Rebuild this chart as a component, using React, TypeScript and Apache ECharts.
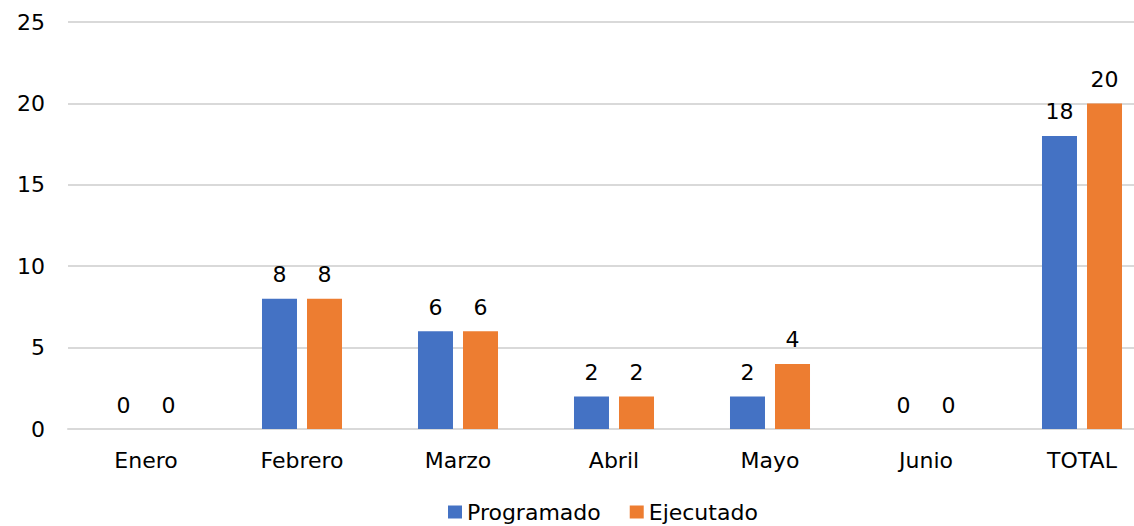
import React, { useEffect, useRef } from "react";
import * as echarts from "echarts";

const categories = ["Enero", "Febrero", "Marzo", "Abril", "Mayo", "Junio", "TOTAL"];
const programado = [0, 8, 6, 2, 2, 0, 18];
const ejecutado = [0, 8, 6, 2, 4, 0, 20];
const seriesNames = ["Programado", "Ejecutado"];
const yMin = 0;
const yMax = 25;
const yInterval = 5;

const FONT = "DejaVu Sans";
const FS = 22;

export default function App() {
  const ref = useRef<HTMLDivElement>(null);
  useEffect(() => {
    if (!ref.current) return;
    const chart = echarts.init(ref.current, undefined, { renderer: "svg" });
    const label = {
      show: true,
      position: "top",
      distance: 13,
      color: "#000",
      fontFamily: FONT,
      fontSize: FS,
    };
    chart.setOption({
      animation: false,
      textStyle: { fontFamily: FONT },
      grid: {
        left: 68,
        top: 22,
        width: 1092,
        height: 407,
        containLabel: false,
        outerBoundsMode: "none",
      },
      legend: {
        left: 443,
        top: 496,
        itemWidth: 14,
        itemHeight: 13,
        itemGap: 29,
        icon: "rect",
        textStyle: { color: "#000", fontFamily: FONT, fontSize: FS },
        data: seriesNames,
      },
      xAxis: {
        type: "category",
        data: categories,
        axisLine: { show: true, lineStyle: { color: "#d9d9d9", width: 2 } },
        axisTick: { show: false },
        axisLabel: { color: "#000", fontFamily: FONT, fontSize: FS, margin: 20, interval: 0 },
      },
      yAxis: {
        type: "value",
        min: yMin,
        max: yMax,
        interval: yInterval,
        axisLine: { show: false },
        axisTick: { show: false },
        splitLine: { lineStyle: { color: "#d9d9d9", width: 2 } },
        axisLabel: { color: "#000", fontFamily: FONT, fontSize: FS, margin: 23 },
      },
      series: [
        {
          name: seriesNames[0],
          type: "bar",
          data: programado,
          barWidth: 35,
          barGap: "28.6%",
          itemStyle: { color: "#4472C4" },
          label,
        },
        {
          name: seriesNames[1],
          type: "bar",
          data: ejecutado,
          barWidth: 35,
          barGap: "28.6%",
          itemStyle: { color: "#ED7D31" },
          label,
        },
      ],
    });
    return () => chart.dispose();
  }, []);
  return (
    <div
      ref={ref}
      style={{ position: "fixed", left: 0, top: 0, width: 1134, height: 526, background: "#fff" }}
    />
  );
}
